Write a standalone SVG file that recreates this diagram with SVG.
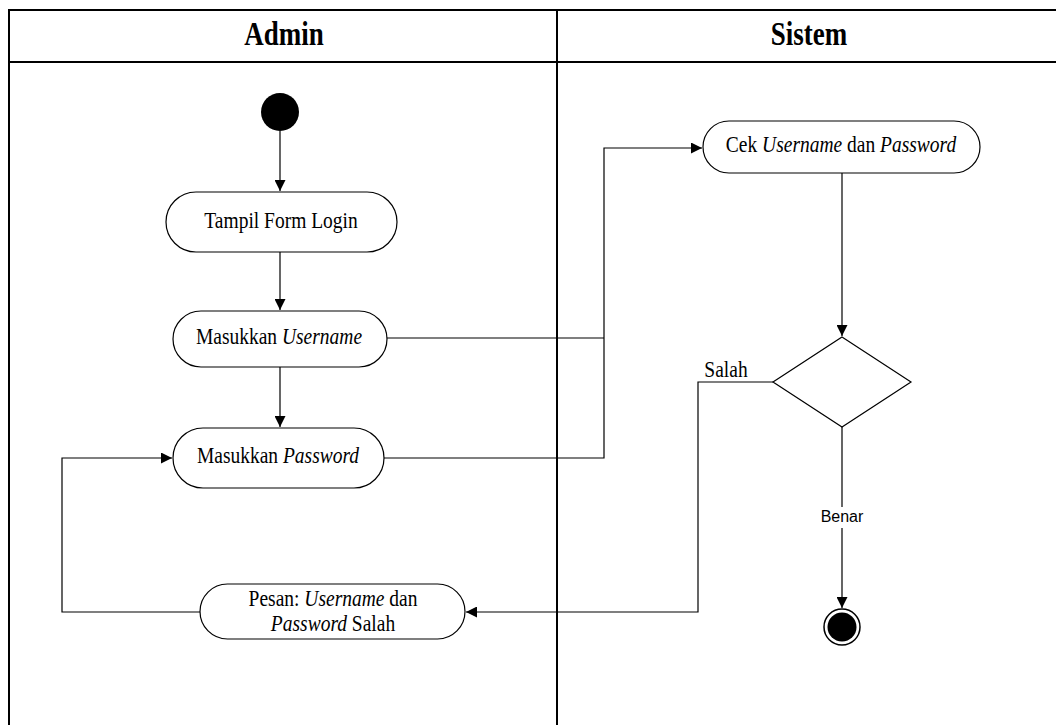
<svg xmlns="http://www.w3.org/2000/svg" width="1056" height="725" viewBox="0 0 1056 725">
  <style>
    .lane { fill: none; stroke: #000; stroke-width: 2; }
    .act { fill: #fff; stroke: #000; stroke-width: 1.2; }
    .flow { fill: none; stroke: #000; stroke-width: 1.2; }
    .head { font-family: "Liberation Serif", "Times New Roman", serif; font-weight: bold; font-size: 27px; text-anchor: middle; }
    .lbl { font-family: "Liberation Serif", "Times New Roman", serif; font-size: 19.5px; text-anchor: middle; }
    .guard { font-family: "Liberation Sans", Arial, sans-serif; font-size: 16px; text-anchor: middle; }
    .it { font-style: italic; }
  </style>
  <defs>
    <marker id="arrow" viewBox="0 0 10 10" refX="10" refY="5" markerWidth="11" markerHeight="11" markerUnits="userSpaceOnUse" orient="auto">
      <path d="M0,0 L10,5 L0,10 Z" fill="#000"/>
    </marker>
  </defs>
  <rect width="1056" height="725" fill="#fff"/>

  <!-- swimlanes; serif captions are drawn slightly tall (scale 1 x 1.2) -->
  <g id="lanes">
    <path class="lane" d="M9,725 V10 H1056 M9,62 H1056 M557,10 V725"/>
    <text class="head" transform="translate(284,45) scale(1,1.22)">Admin</text>
    <text class="head" transform="translate(809,45) scale(1,1.22)">Sistem</text>
  </g>

  <!-- connectors -->
  <g id="connectors">
    <path class="flow" d="M280,131 V191" marker-end="url(#arrow)"/>
    <path class="flow" d="M280,252 V310" marker-end="url(#arrow)"/>
    <path class="flow" d="M280,367 V427" marker-end="url(#arrow)"/>
    <path class="flow" d="M387,338 H604"/>
    <path class="flow" d="M384,458 H604 V148 H702" marker-end="url(#arrow)"/>
    <path class="flow" d="M842,172 V336" marker-end="url(#arrow)"/>
    <path class="flow" d="M773,382 H698 V612 H466" marker-end="url(#arrow)"/>
    <path class="flow" d="M200,612 H62 V458 H172" marker-end="url(#arrow)"/>
    <path class="flow" d="M842,427 V507 M842,528 V608" marker-end="url(#arrow)"/>
    <text class="lbl" transform="translate(726,377) scale(1,1.2)">Salah</text>
    <text class="guard" x="842" y="522">Benar</text>
  </g>

  <!-- nodes -->
  <g id="start">
    <circle cx="280" cy="112" r="19" fill="#000"/>
  </g>
  <g id="tampil-form-login">
    <rect class="act" x="166" y="192" width="231" height="60" rx="30"/>
    <text class="lbl" transform="translate(281,228) scale(1,1.2)">Tampil Form Login</text>
  </g>
  <g id="masukkan-username">
    <rect class="act" x="173" y="311" width="214" height="56" rx="28"/>
    <text class="lbl" transform="translate(279,344) scale(1,1.2)">Masukkan <tspan class="it">Username</tspan></text>
  </g>
  <g id="masukkan-password">
    <rect class="act" x="173" y="428" width="211" height="60" rx="30"/>
    <text class="lbl" transform="translate(278,463) scale(1,1.2)">Masukkan <tspan class="it">Password</tspan></text>
  </g>
  <g id="pesan-salah">
    <rect class="act" x="200" y="584" width="265" height="55" rx="27.5"/>
    <text class="lbl" transform="translate(333,606) scale(1,1.2)">Pesan: <tspan class="it">Username</tspan> dan</text>
    <text class="lbl" transform="translate(333,631) scale(1,1.2)"><tspan class="it">Password</tspan> Salah</text>
  </g>
  <g id="cek-login">
    <rect class="act" x="703" y="121" width="277" height="52" rx="26"/>
    <text class="lbl" transform="translate(841,152) scale(1,1.2)">Cek <tspan class="it">Username</tspan> dan <tspan class="it">Password</tspan></text>
  </g>
  <g id="decision">
    <path class="act" d="M842,337 L911,382 L842,427 L773,382 Z"/>
  </g>
  <g id="end">
    <circle cx="842" cy="627" r="18" fill="#fff" stroke="#000" stroke-width="1.5"/>
    <circle cx="842" cy="627" r="14.5" fill="#000"/>
  </g>
</svg>
